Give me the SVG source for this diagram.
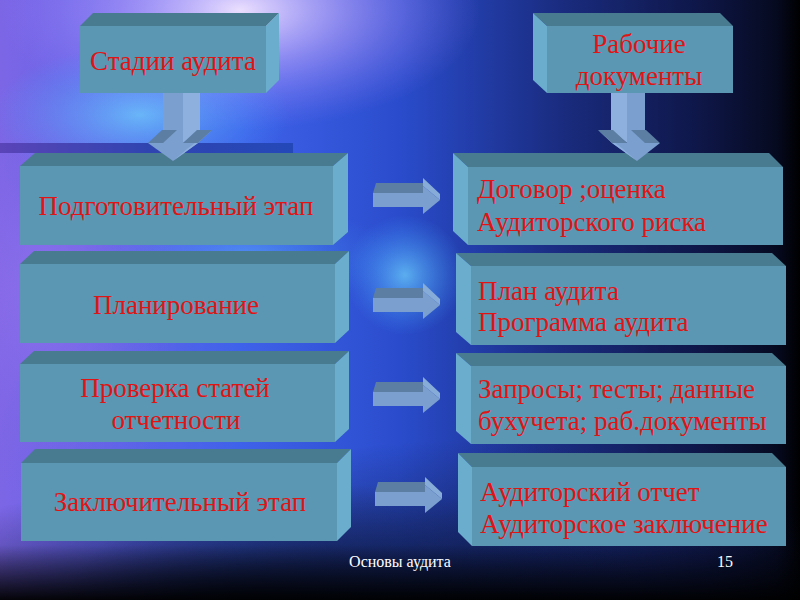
<svg xmlns="http://www.w3.org/2000/svg" xmlns:xlink="http://www.w3.org/1999/xlink" width="800" height="600" viewBox="0 0 800 600">
<defs>
<linearGradient id="bgH" x1="0" y1="0" x2="1" y2="0">
<stop offset="0" stop-color="#7c66e6"/>
<stop offset="0.3" stop-color="#3f62ea"/>
<stop offset="0.5" stop-color="#2a4ccc"/>
<stop offset="0.7" stop-color="#1a2c80"/>
<stop offset="0.88" stop-color="#0e1646"/>
<stop offset="0.97" stop-color="#060a20"/>
<stop offset="1" stop-color="#000"/>
</linearGradient>
<radialGradient id="gTop" cx="0.5" cy="0.5" r="0.5">
<stop offset="0" stop-color="#f4e6ff" stop-opacity="0.95"/>
<stop offset="0.5" stop-color="#c8a8ff" stop-opacity="0.5"/>
<stop offset="1" stop-color="#a080ff" stop-opacity="0"/>
</radialGradient>
<radialGradient id="gCyan" cx="0.5" cy="0.5" r="0.5">
<stop offset="0" stop-color="#70d8ff" stop-opacity="0.7"/>
<stop offset="1" stop-color="#40a0ff" stop-opacity="0"/>
</radialGradient>
<radialGradient id="gViolet" cx="0.5" cy="0.5" r="0.5">
<stop offset="0" stop-color="#a078f0" stop-opacity="0.6"/>
<stop offset="1" stop-color="#8060e0" stop-opacity="0"/>
</radialGradient>
<radialGradient id="gDark" cx="0.5" cy="0.5" r="0.5">
<stop offset="0" stop-color="#0a1232" stop-opacity="0.9"/>
<stop offset="1" stop-color="#0a1232" stop-opacity="0"/>
</radialGradient>
<linearGradient id="bottom" x1="0" y1="0" x2="0" y2="1">
<stop offset="0" stop-color="#000" stop-opacity="0"/>
<stop offset="1" stop-color="#000" stop-opacity="0.95"/>
</linearGradient>
<linearGradient id="bar" x1="0" y1="0" x2="1" y2="0">
<stop offset="0" stop-color="#5a44b8"/>
<stop offset="0.5" stop-color="#3044b0"/>
<stop offset="1" stop-color="#2448b8"/>
</linearGradient>
<g id="harrow">
<polygon class="af" points="373,193 423,193 423,207 373,207"/>
<polygon class="ab" points="373,193 376,183 423,183 423,193"/>
<polygon class="af" points="423,186 440,200 423,214"/>
<polygon class="ah" points="423,178 440,194 440,200 423,186"/>
</g>
</defs>
<style>
.front{fill:#5b97b3}
.top{fill:#487b8f}
.side{fill:#6aadcc}
.t{font-family:"Liberation Serif","Times New Roman",serif;font-size:27px;fill:#e01414}
.m{text-anchor:middle}
.af{fill:#7b9fcf}
.ab{fill:#5b7ea2}
.ah{fill:#88acd8}
.al{fill:#8db0df}
.foot{font-family:"Liberation Serif","Times New Roman",serif;font-size:16px;fill:#ffffff}
</style>
<rect width="800" height="600" fill="url(#bgH)"/>
<ellipse cx="50" cy="290" rx="150" ry="210" fill="url(#gViolet)"/>
<ellipse cx="240" cy="10" rx="240" ry="120" fill="url(#gTop)"/>
<ellipse cx="140" cy="115" rx="150" ry="70" fill="url(#gCyan)"/>
<ellipse cx="405" cy="275" rx="60" ry="60" fill="url(#gCyan)"/>
<ellipse cx="250" cy="255" rx="150" ry="50" fill="url(#gCyan)" opacity="0.5"/>
<ellipse cx="470" cy="640" rx="420" ry="200" fill="url(#gDark)"/>
<ellipse cx="250" cy="600" rx="400" ry="120" fill="url(#gDark)"/>
<rect x="0" y="545" width="800" height="55" fill="url(#bottom)"/>
<rect x="0" y="143" width="293" height="10" fill="url(#bar)"/>

<g id="stages">
<polygon class="top" points="80,26 93,13 279,13 266,26"/>
<polygon class="side" points="266,26 279,13 279,80 266,93"/>
<rect class="front" x="80" y="26" width="186" height="67"/>
<text class="t m" x="173" y="70">Стадии аудита</text>
</g>
<g id="docs">
<polygon class="top" points="547,26 533,13 720,13 733,26"/>
<polygon class="side" points="547,26 533,13 533,80 547,93"/>
<rect class="front" x="547" y="26" width="186" height="67"/>
<text class="t m" x="639" y="53">Рабочие</text>
<text class="t m" x="639" y="85">документы</text>
</g>

<g id="prep">
<polygon class="top" points="20,166 35,153 348,153 333,166"/>
<polygon class="side" points="333,166 348,153 348,232 333,245"/>
<rect class="front" x="20" y="166" width="313" height="79"/>
<text class="t m" x="176" y="215">Подготовительный этап</text>
</g>
<g id="plan">
<polygon class="top" points="20,264 34,251 349,251 335,264"/>
<polygon class="side" points="335,264 349,251 349,330 335,343"/>
<rect class="front" x="20" y="264" width="315" height="79"/>
<text class="t m" x="176" y="314">Планирование</text>
</g>
<g id="check">
<polygon class="top" points="20,364 34,351 349,351 335,364"/>
<polygon class="side" points="335,364 349,351 349,429 335,442"/>
<rect class="front" x="20" y="364" width="315" height="78"/>
<text class="t m" x="175" y="397">Проверка статей</text>
<text class="t m" x="176" y="429">отчетности</text>
</g>
<g id="final">
<polygon class="top" points="21,463 35,449 351,449 337,463"/>
<polygon class="side" points="337,463 351,449 351,527 337,541"/>
<rect class="front" x="21" y="463" width="316" height="78"/>
<text class="t m" x="180" y="511">Заключительный этап</text>
</g>

<g id="contract">
<polygon class="top" points="468,167 453,153 769,153 783,167"/>
<polygon class="side" points="468,167 453,153 453,231 468,245"/>
<rect class="front" x="468" y="167" width="315" height="78"/>
<text class="t" x="477" y="198">Договор ;оценка</text>
<text class="t" x="477" y="231">Аудиторского риска</text>
</g>
<g id="program">
<polygon class="top" points="471,266 456,253 772,253 786,266"/>
<polygon class="side" points="471,266 456,253 456,332 471,345"/>
<rect class="front" x="471" y="266" width="315" height="79"/>
<text class="t" x="478" y="300">План аудита</text>
<text class="t" x="478" y="331">Программа аудита</text>
</g>
<g id="requests">
<polygon class="top" points="471,366 456,353 772,353 786,366"/>
<polygon class="side" points="471,366 456,353 456,431 471,444"/>
<rect class="front" x="471" y="366" width="315" height="78"/>
<text class="t" x="478" y="398">Запросы; тесты; данные</text>
<text class="t" x="478" y="430">бухучета; раб.документы</text>
</g>
<g id="report">
<polygon class="top" points="472,467 458,453 772,453 786,467"/>
<polygon class="side" points="472,467 458,453 458,532 472,546"/>
<rect class="front" x="472" y="467" width="314" height="79"/>
<text class="t" x="480" y="501">Аудиторский отчет</text>
<text class="t" x="480" y="533">Аудиторское заключение</text>
</g>

<g id="connectors">
<g id="down-left">
<rect x="163" y="93" width="20" height="50" class="af"/>
<polygon points="183,93 200,93 200,130 183,143" class="al"/>
<polygon points="148,143 198,143 173,161" class="af"/>
<polygon points="198,143 212,130 187,149 173,161" class="al"/>
<polygon points="148,143 163,143 177,130 162,130" class="ab"/>
<polygon points="183,143 198,143 212,130 197,130" class="ab"/>
</g>
<g id="down-right">
<polygon points="611,93 627,93 627,143 611,130" class="al"/>
<rect x="627" y="93" width="18" height="50" class="af"/>
<polygon points="612,143 660,143 637,161" class="af"/>
<polygon points="612,143 598,130 623,149 637,161" class="al"/>
<polygon points="612,143 627,143 613,130 598,130" class="ab"/>
<polygon points="645,143 660,143 646,130 631,130" class="ab"/>
</g>
<use xlink:href="#harrow" href="#harrow"/>
<use xlink:href="#harrow" href="#harrow" y="105"/>
<use xlink:href="#harrow" href="#harrow" y="199"/>
<use xlink:href="#harrow" href="#harrow" x="2" y="299"/>
</g>

<text class="foot" x="400" y="567" text-anchor="middle">Основы аудита</text>
<text class="foot" x="725" y="567" text-anchor="middle">15</text>
</svg>
